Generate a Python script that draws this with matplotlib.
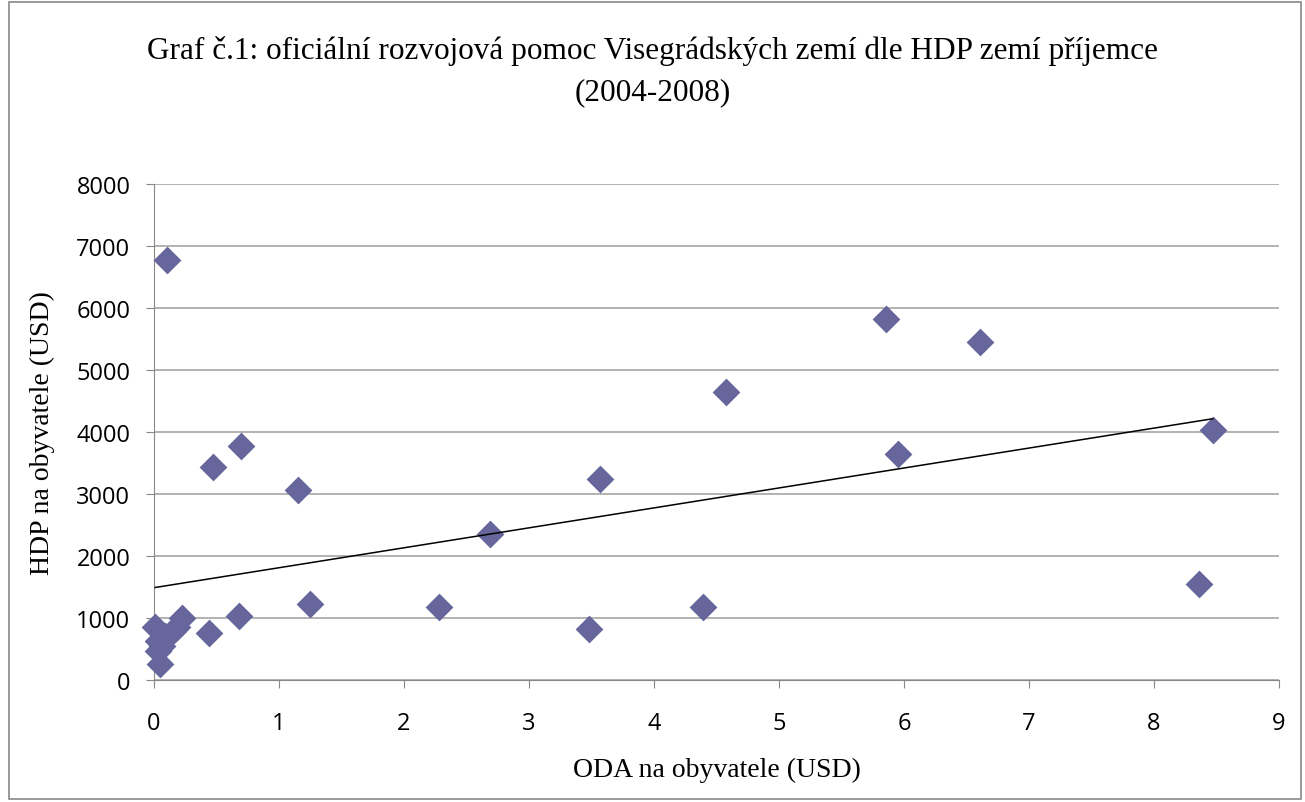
import numpy as np
import matplotlib.pyplot as plt
from matplotlib.patches import Rectangle

# ODA per capita (USD) vs GDP per capita (USD)
oda = [0.10, 0.47, 0.70, 1.15, 1.25, 2.28, 2.69, 3.48, 3.57, 4.39, 4.58, 5.86,
       5.95, 6.61, 8.36, 8.47, 0.44, 0.68,
       0.01, 0.05, 0.03, 0.03, 0.09, 0.15, 0.22, 0.18, 0.06]
hdp = [6780, 3435, 3774, 3065, 1226, 1177, 2355, 823, 3242, 1177, 4645, 5823,
       3645, 5452, 1548, 4032, 758, 1032,
       855, 258, 468, 629, 710, 790, 1000, 855, 548]

title = "Graf č.1: oficiální rozvojová pomoc Visegrádských zemí dle HDP zemí příjemce\n(2004-2008)"

fig = plt.figure(figsize=(13.05, 8.03), dpi=100)
ax = fig.add_axes([154 / 1305, 1 - 681 / 803, 1125 / 1305, 496 / 803])

# outer chart border
fig.patches.append(Rectangle((9 / 1305, 3 / 803), 1292 / 1305, 797 / 803,
                             transform=fig.transFigure, fill=False,
                             edgecolor="#888888", linewidth=1.2))

ax.scatter(oda, hdp, marker="D", s=200, color="#66669C", zorder=3, linewidths=0,
           clip_on=False)

# linear trend line
k, q = np.polyfit(oda, hdp, 1)
xs = np.array([min(oda), max(oda)])
ax.plot(xs, k * xs + q, color="black", linewidth=1.1, zorder=4)

ax.set_xlim(0, 9)
ax.set_ylim(0, 8000)
ax.set_xticks(range(0, 10))
ax.set_yticks(range(0, 8001, 1000))
ax.yaxis.grid(True, color="#A6A6A6", linewidth=1.2)
ax.set_axisbelow(True)

for s in ["top", "right"]:
    ax.spines[s].set_visible(False)
ax.spines["left"].set_color("#888888")
ax.spines["bottom"].set_color("#888888")
ax.tick_params(axis="x", length=6, color="#888888", labelsize=17, pad=16)
ax.tick_params(axis="y", length=6, color="#888888", labelsize=17, pad=11)
for lab in ax.get_xticklabels() + ax.get_yticklabels():
    lab.set_fontfamily("Open Sans")

ax.set_xlabel("ODA na obyvatele (USD)", fontfamily="Liberation Serif", fontsize=20, va="center")
ax.set_ylabel("HDP na obyvatele (USD)", fontfamily="Liberation Serif", fontsize=20, va="center")
ax.xaxis.set_label_coords(0.5, (681 - 770) / 496)
ax.yaxis.set_label_coords((42 - 154) / 1125, 0.5)

fig.text(0.5, 1 - 72 / 803, title, ha="center", va="center",
         fontfamily="Liberation Serif", fontsize=22.5, linespacing=1.55)

fig.savefig("out.png", dpi=100)
